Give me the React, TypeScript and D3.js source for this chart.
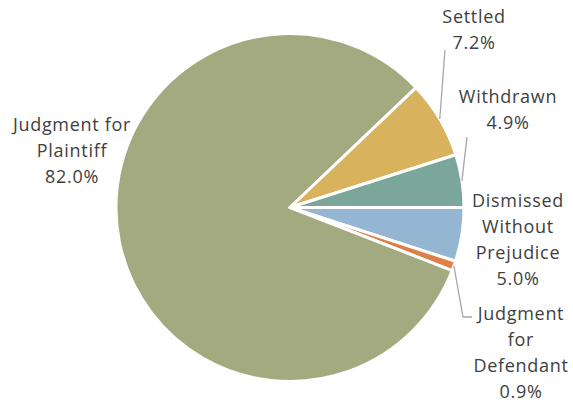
import React from "react";
import * as d3 from "d3";

const categories = [
  "Dismissed Without Prejudice",
  "Judgment for Defendant",
  "Judgment for Plaintiff",
  "Settled",
  "Withdrawn",
];
const values = [5.0, 0.9, 82.0, 7.2, 4.9];
const labelLines = [
  ["Dismissed", "Without", "Prejudice", "5.0%"],
  ["Judgment", "for", "Defendant", "0.9%"],
  ["Judgment for", "Plaintiff", "82.0%"],
  ["Settled", "7.2%"],
  ["Withdrawn", "4.9%"],
];

const colors = ["#94B6D3", "#DD8047", "#A3AA7F", "#D8B25C", "#7BA79A"];

// label layout: x center, first baseline, optional leader line end points
const labelLayout: { x: number; y: number; leader?: [number, number][] }[] = [
  { x: 518, y: 207 },
  { x: 521, y: 320, leader: [[463, 317], [472, 317]] },
  { x: 72, y: 131 },
  { x: 474, y: 23, leader: [[445, 50]] },
  { x: 508, y: 103, leader: [[467, 137]] },
];

const W = 573;
const H = 403;
const cx = 290;
const cy = 207.5;
const R = 174;
const lineH = 26;

export default function App() {
  const pie = d3
    .pie<number>()
    .sort(null)
    .startAngle(Math.PI / 2)
    .endAngle(Math.PI / 2 + 2 * Math.PI)
    .value((d) => d);
  const arcs = pie(values);
  const arc = d3.arc<d3.PieArcDatum<number>>().innerRadius(0).outerRadius(R);

  return (
    <svg
      width={W}
      height={H}
      style={{ position: "absolute", left: 0, top: 0 }}
      fontFamily="'Century Gothic', 'Open Sans', Lato, sans-serif"
    >
      <rect width={W} height={H} fill="#fff" />
      <g transform={`translate(${cx},${cy})`}>
        {arcs.map((a, i) => (
          <path
            key={categories[i]}
            d={arc(a) || ""}
            fill={colors[i]}
            stroke="#fff"
            strokeWidth={3}
            strokeLinejoin="round"
          />
        ))}
      </g>
      {arcs.map((a, i) => {
        const L = labelLayout[i];
        if (!L.leader) return null;
        const mid = (a.startAngle + a.endAngle) / 2;
        const sx = cx + R * Math.sin(mid);
        const sy = cy - R * Math.cos(mid);
        const pts: [number, number][] = [[sx, sy], ...L.leader];
        return (
          <path
            key={"l" + i}
            d={d3.line()(pts) || ""}
            fill="none"
            stroke="#A6A6A6"
            strokeWidth={1.3}
          />
        );
      })}
      {labelLines.map((lines, i) => {
        const L = labelLayout[i];
        return (
          <text
            key={"t" + i}
            textAnchor="middle"
            fontSize={18}
            letterSpacing={0.7}
            fill="#404040"
          >
            {lines.map((s, j) => (
              <tspan key={j} x={L.x} y={L.y + j * lineH}>
                {s}
              </tspan>
            ))}
          </text>
        );
      })}
    </svg>
  );
}
